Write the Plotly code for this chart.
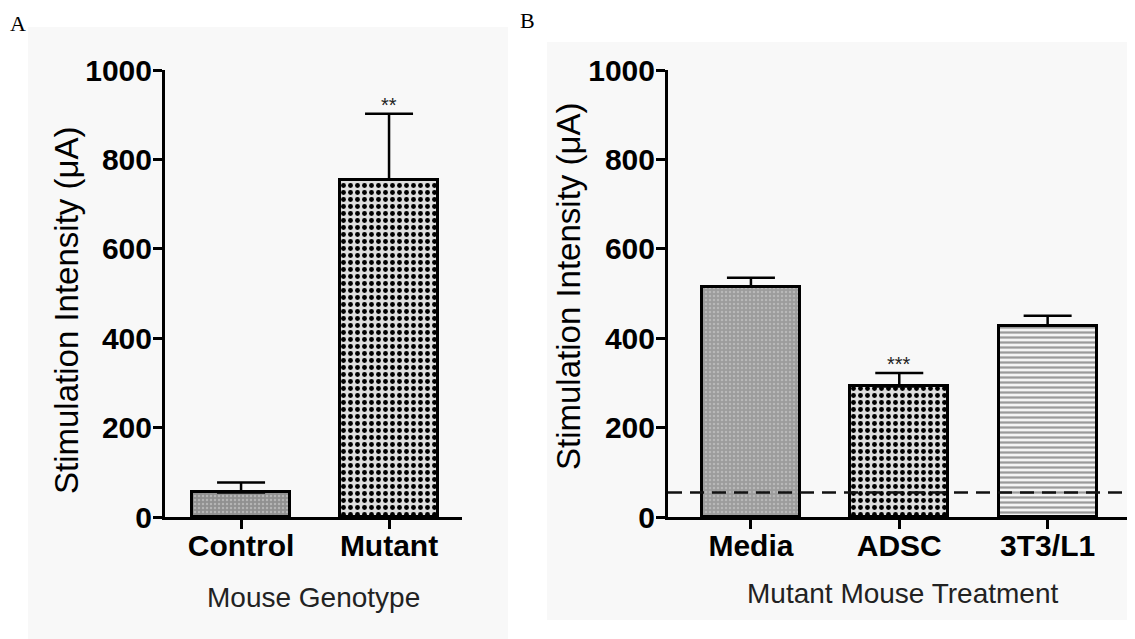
import plotly.graph_objects as go

# page body has an 8px default margin; size the figure so it fits the 1135x639 window
OFF = 8
W, H = 1135 - OFF, 639 - OFF

# ---- data ----
genotypes = ["Control", "Mutant"]
genotype_means = [55, 755]
genotype_err = [22, 147]
genotype_sig = ["", "**"]

treatments = ["Media", "ADSC", "3T3/L1"]
treatment_means = [515, 292, 428]
treatment_err = [20, 30, 22]
treatment_sig = ["", "***", ""]

y_ticks = [0, 200, 400, 600, 800, 1000]
control_level = genotype_means[0]

TICKFONT = dict(family="Liberation Sans, Arial", size=30, color="black")
TITLEFONT = dict(family="Liberation Sans, Arial", size=28, color="#222")


def px_x(p):
    return (p - OFF) / W


def px_y(p):
    return 1 - (p - OFF) / H


dots = dict(shape=".", fgcolor="#000000", bgcolor="#dedede", size=7, solidity=0.38)
fine_gray = dict(shape=".", fgcolor="#b4b4b4", bgcolor="#909090", size=4, solidity=0.3)
media_pat = dict(shape=".", fgcolor="#b8b8b8", bgcolor="#9c9c9c", size=4, solidity=0.3)
hlines = dict(shape="-", fgcolor="#9a9a9a", bgcolor="#f4f4f4", size=5, solidity=0.45)

fig = go.Figure()


def add_bar(x, y, err, pat, xaxis, yaxis):
    fig.add_trace(go.Bar(
        x=[x], y=[y], width=0.66,
        marker=dict(color=pat["bgcolor"], line=dict(color="black", width=3),
                    pattern=dict(shape=pat["shape"], fgcolor=pat["fgcolor"],
                                 bgcolor=pat["bgcolor"], size=pat["size"],
                                 solidity=pat["solidity"], fgopacity=1)),
        error_y=dict(type="data", symmetric=False, array=[err], arrayminus=[0],
                     color="black", thickness=2.5, width=24),
        xaxis=xaxis, yaxis=yaxis, showlegend=False,
    ))


xa = list(range(len(genotypes)))
for i, pat in enumerate([fine_gray, dots]):
    add_bar(xa[i], genotype_means[i], genotype_err[i], pat, "x", "y")

xb = list(range(len(treatments)))
for i, pat in enumerate([media_pat, dots, hlines]):
    add_bar(xb[i], treatment_means[i], treatment_err[i], pat, "x2", "y2")

# significance markers
for i, s in enumerate(genotype_sig):
    if s:
        fig.add_annotation(x=xa[i], y=genotype_means[i] + genotype_err[i], xref="x", yref="y",
                           text=s, showarrow=False, xanchor="center", yanchor="bottom", yshift=-4,
                           font=dict(family="Liberation Sans, Arial", size=20, color="#222"))
for i, s in enumerate(treatment_sig):
    if s:
        fig.add_annotation(x=xb[i], y=treatment_means[i] + treatment_err[i], xref="x2", yref="y2",
                           text=s, showarrow=False, xanchor="center", yanchor="bottom", yshift=-4,
                           font=dict(family="Liberation Sans, Arial", size=20, color="#222"))

# dashed reference line (control level) on panel B
fig.add_shape(type="line", xref="x2 domain", yref="y2", x0=0, x1=1.01,
              y0=control_level, y1=control_level, layer="above",
              line=dict(color="#111", width=2.5, dash="14px,8px"))

# panel backgrounds
fig.add_shape(type="rect", xref="paper", yref="paper", x0=px_x(28), x1=px_x(508),
              y0=px_y(645), y1=px_y(27), fillcolor="#f8f8f8", line=dict(width=0), layer="below")
fig.add_shape(type="rect", xref="paper", yref="paper", x0=px_x(547), x1=px_x(1140),
              y0=px_y(620), y1=px_y(42), fillcolor="#f8f8f8", line=dict(width=0), layer="below")

axis_common = dict(showline=True, linecolor="black", linewidth=3, ticks="outside",
                   ticklen=9, tickwidth=3, tickcolor="black", showgrid=False, zeroline=False,
                   tickfont=TICKFONT, automargin=False)

fig.update_layout(
    width=W, height=H, margin=dict(l=0, r=0, t=0, b=0, autoexpand=False),
    paper_bgcolor="white", plot_bgcolor="rgba(0,0,0,0)",
    bargap=0, barmode="overlay",
    xaxis=dict(domain=[px_x(165), px_x(462)], range=[-0.514, 1.493], anchor="y",
               tickvals=xa, ticktext=[f"<b>{t}</b>" for t in genotypes],
               ticklabelstandoff=-9, **axis_common),
    yaxis=dict(domain=[px_y(517), px_y(70)], range=[0, 1000], anchor="x",
               tickvals=y_ticks, ticktext=[f"<b>{t}</b>" for t in y_ticks],
               ticklabelstandoff=-5, **axis_common),
    xaxis2=dict(domain=[px_x(668), px_x(1127)], range=[-0.559, 2.535], anchor="y2",
                tickvals=xb, ticktext=[f"<b>{t}</b>" for t in treatments],
                ticklabelstandoff=-9, **axis_common),
    yaxis2=dict(domain=[px_y(517), px_y(70)], range=[0, 1000], anchor="x2",
                tickvals=y_ticks, ticktext=[f"<b>{t}</b>" for t in y_ticks],
                ticklabelstandoff=-5, **axis_common),
)


def label(x, y, text, font, angle=0):
    fig.add_annotation(x=px_x(x), y=px_y(y), xref="paper", yref="paper", text=text,
                       textangle=angle, showarrow=False, xanchor="center", yanchor="middle",
                       font=font)


YTITLE = dict(family="Liberation Sans, Arial", size=33, color="black")
label(66, 311, "Stimulation Intensity (μA)", YTITLE, -90)
label(568, 287, "Stimulation Intensity (μA)", YTITLE, -90)
label(313, 597, "Mouse Genotype", TITLEFONT)
label(902, 593, "Mutant Mouse Treatment", TITLEFONT)

LETTER = dict(family="Liberation Serif, serif", size=22, color="black")
label(18, 24, "A", LETTER)
label(527, 21, "B", LETTER)

fig.write_html("out.html")
